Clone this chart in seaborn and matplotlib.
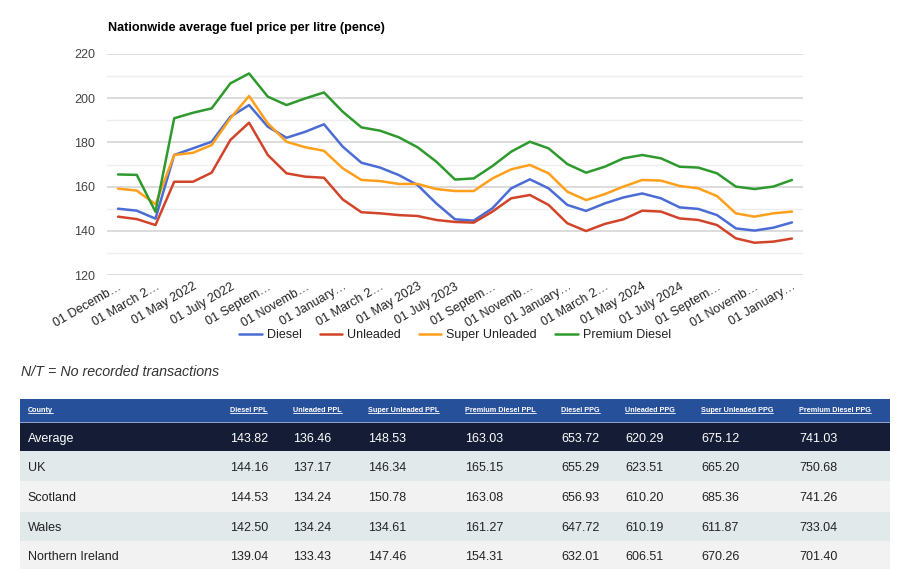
import numpy as np
import pandas as pd
import matplotlib
matplotlib.use("Agg")
import matplotlib.pyplot as plt
import seaborn as sns
from matplotlib.patches import Rectangle
from matplotlib.lines import Line2D

# ---------------- data ----------------
months = ["2021-12", "2022-02"] + [f"{y}-{m:02d}" for y, m in
          [(2022, m) for m in range(3, 13)] + [(2023, m) for m in range(1, 13)] +
          [(2024, m) for m in range(1, 13)] + [(2025, 1)]]

diesel = [150.0, 149.1, 145.5, 174.3, 177.3, 180.3, 191.6, 196.9, 187.1, 182.1,
          184.8, 188.2, 178.1, 170.8, 168.6, 165.2, 160.7, 152.4, 145.2, 144.6,
          150.2, 159.2, 163.3, 159.2, 151.7, 149.0, 152.4, 155.1, 156.9, 154.7,
          150.6, 149.9, 147.1, 141.1, 140.1, 141.4, 143.8]
unleaded = [146.4, 145.3, 142.6, 162.2, 162.2, 166.3, 181.1, 188.9, 174.3, 166.0,
            164.5, 164.0, 154.2, 148.4, 147.9, 147.1, 146.7, 144.9, 144.0, 143.7,
            148.7, 154.7, 156.2, 151.7, 143.4, 139.9, 143.1, 145.2, 149.1, 148.7,
            145.6, 144.9, 142.6, 136.6, 134.6, 135.1, 136.5]
super_unleaded = [159.1, 158.2, 152.0, 174.3, 175.3, 178.8, 190.9, 201.0, 188.6, 180.3,
                  177.8, 176.2, 168.3, 163.0, 162.5, 161.2, 161.2, 158.9, 158.0, 158.0,
                  163.7, 167.8, 169.8, 166.0, 157.7, 153.9, 156.6, 160.0, 163.0, 162.7,
                  160.3, 159.2, 155.7, 147.9, 146.4, 147.9, 148.7]
premium_diesel = [165.5, 165.3, 148.6, 190.9, 193.4, 195.4, 206.7, 211.2, 200.7, 196.9,
                  199.9, 202.6, 193.9, 186.8, 185.3, 182.3, 177.8, 171.3, 163.2, 163.7,
                  169.3, 175.8, 180.3, 177.3, 170.2, 166.3, 169.0, 172.8, 174.3, 172.8,
                  169.0, 168.6, 166.0, 160.0, 158.9, 160.0, 163.0]

series_names = ["Diesel", "Unleaded", "Super Unleaded", "Premium Diesel"]
series_colors = ["#4a6cd4", "#d2442a", "#ff9f1a", "#2e9a2e"]

tick_labels = ["01 Decemb…", "01 March 2…", "01 May 2022", "01 July 2022", "01 Septem…",
               "01 Novemb…", "01 January…", "01 March 2…", "01 May 2023", "01 July 2023",
               "01 Septem…", "01 Novemb…", "01 January…", "01 March 2…", "01 May 2024",
               "01 July 2024", "01 Septem…", "01 Novemb…", "01 January…"]

title = "Nationwide average fuel price per litre (pence)"
note = "N/T = No recorded transactions"

table_headers = ["County", "Diesel PPL", "Unleaded PPL", "Super Unleaded PPL",
                 "Premium Diesel PPL", "Diesel PPG", "Unleaded PPG",
                 "Super Unleaded PPG", "Premium Diesel PPG"]
counties = ["Average", "UK", "Scotland", "Wales", "Northern Ireland"]
diesel_ppl = [143.82, 144.16, 144.53, 142.50, 139.04]
unleaded_ppl = [136.46, 137.17, 134.24, 134.24, 133.43]
super_ppl = [148.53, 146.34, 150.78, 134.61, 147.46]
premium_ppl = [163.03, 165.15, 163.08, 161.27, 154.31]
diesel_ppg = [653.72, 655.29, 656.93, 647.72, 632.01]
unleaded_ppg = [620.29, 623.51, 610.20, 610.19, 606.51]
super_ppg = [675.12, 665.20, 685.36, 611.87, 670.26]
premium_ppg = [741.03, 750.68, 741.26, 733.04, 701.40]

# ---------------- figure ----------------
sns.set_theme(style="white")
plt.rcParams['font.family'] = ['Liberation Sans', 'DejaVu Sans']

W, H = 904, 569
fig = plt.figure(figsize=(W / 100, H / 100), dpi=100)
fig.patch.set_facecolor("white")

ax = fig.add_axes([107 / W, 1 - 275 / H, 696 / W, 221 / H])

wide = pd.DataFrame({"idx": np.arange(len(months)), "month": months,
                     "Diesel": diesel, "Unleaded": unleaded,
                     "Super Unleaded": super_unleaded, "Premium Diesel": premium_diesel})
long = wide.melt(id_vars=["idx", "month"], value_vars=series_names,
                 var_name="fuel", value_name="price")

sns.lineplot(data=long, x="idx", y="price", hue="fuel", hue_order=series_names,
             palette=dict(zip(series_names, series_colors)), linewidth=1.8, ax=ax)
for ln in ax.get_lines():
    ln.set_solid_joinstyle("round")
    ln.set_solid_capstyle("round")

ax.set_xlim(-0.59, len(months) - 1 + 0.59)
ax.set_ylim(120, 220)
ax.set_yticks(range(120, 221, 20))
ax.set_yticks(range(130, 220, 20), minor=True)
ax.grid(which="major", axis="y", color="#dcdcdc", lw=1.4)
ax.grid(which="minor", axis="y", color="#eeeeee", lw=1.0)
ax.grid(which="major", axis="x", visible=False)
ax.set_axisbelow(True)
for s in ax.spines.values():
    s.set_visible(False)
ax.set_xlabel("")
ax.set_ylabel("")
ax.set_xticks(range(0, len(months), 2))
ax.set_xticklabels(tick_labels, rotation=30, ha="right", rotation_mode="anchor",
                   fontsize=9, color="#222222")
ax.tick_params(axis="both", which="both", length=0)
ax.tick_params(axis="x", pad=4)
ax.tick_params(axis="y", pad=8.5, labelsize=9, labelcolor="#444444")

sns.move_legend(ax, "center", bbox_to_anchor=(0.5, (275 - 335) / 221), ncol=4,
                frameon=False, title=None, handlelength=1.8, handletextpad=0.4,
                columnspacing=1.45, fontsize=9)
for t in ax.get_legend().get_texts():
    t.set_color("#222222")

fig.text(108 / W, 1 - 31 / H, title, fontsize=9.1, fontweight="bold",
         color="#000000", va="baseline", ha="left")
fig.text(21 / W, 1 - 375.7 / H, note, fontsize=10.3, fontstyle="italic",
         color="#333333", va="baseline", ha="left")

# ---------------- table ----------------
tax = fig.add_axes([0, 0, 1, 1])
tax.set_xlim(0, W)
tax.set_ylim(H, 0)
tax.axis("off")

tx0, tx1 = 20, 890
col_x = [27.7, 230, 293, 368, 465, 561, 625, 701, 799]
tax.add_patch(Rectangle((tx0, 399), tx1 - tx0, 23, color="#27509b", lw=0))
tax.add_patch(Rectangle((tx0, 422), tx1 - tx0, 1, color="#8fa3c9", lw=0))
row_edges = [423, 451, 481, 511.5, 541, 569]
row_colors = ["#141c36", "#e1e9eb", "#f2f2f2", "#e1e9eb", "#f2f2f2"]
for r in range(len(counties)):
    tax.add_patch(Rectangle((tx0, row_edges[r]), tx1 - tx0,
                            row_edges[r + 1] - row_edges[r], color=row_colors[r], lw=0))

header_texts = []
for h, x in zip(table_headers, col_x):
    t = tax.text(x, 409.5 + 2.6, h, fontsize=5.2, fontweight="bold", color="white",
                 va="baseline", ha="left")
    header_texts.append(t)

cols = [diesel_ppl, unleaded_ppl, super_ppl, premium_ppl,
        diesel_ppg, unleaded_ppg, super_ppg, premium_ppg]
for r, name in enumerate(counties):
    yc = (row_edges[r] + row_edges[r + 1]) / 2
    color = "white" if r == 0 else "#222222"
    tax.text(col_x[0], yc + 4.5, name, fontsize=9, color=color, va="baseline", ha="left")
    for c, vals in enumerate(cols):
        tax.text(col_x[c + 1], yc + 4.5, f"{vals[r]:.2f}", fontsize=9, color=color,
                 va="baseline", ha="left")

fig.canvas.draw()
renderer = fig.canvas.get_renderer()
for t in header_texts:
    bb = t.get_window_extent(renderer)
    tax.add_line(Line2D([bb.x0, bb.x1], [413.2, 413.2], color="white", lw=0.6))

fig.savefig("out.png", dpi=100, facecolor="white")
